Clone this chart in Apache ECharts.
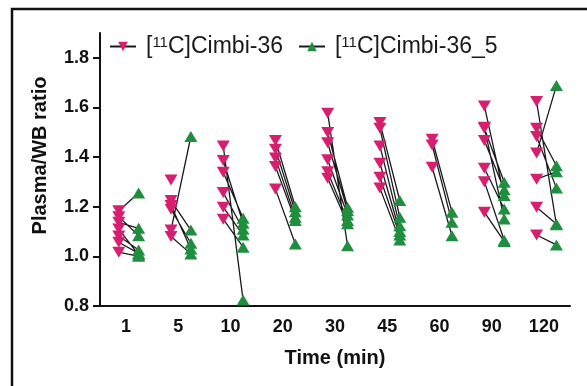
<!DOCTYPE html>
<html>
<head>
<meta charset="utf-8">
<script src="https://cdn.jsdelivr.net/npm/echarts@6.0.0/dist/echarts.min.js"></script>
<style>
html,body{margin:0;padding:0;background:#fff;}
#chart{width:587px;height:386px;}
</style>
</head>
<body>
<div id="chart"></div>
<script>
// Time points (min)
const categories = ['1', '5', '10', '20', '30', '45', '60', '90', '120'];
// y-axis tick labels
const yTicks = [0.8, 1.0, 1.2, 1.4, 1.6, 1.8];
// [11C]Cimbi-36 values per time point (paired with the arrays below)
const cimbi36 = [
  [1.184, 1.160, 1.137, 1.110, 1.082, 1.057, 1.017],
  [1.308, 1.225, 1.205, 1.190, 1.106, 1.080],
  [1.445, 1.386, 1.339, 1.257, 1.198, 1.150],
  [1.467, 1.432, 1.396, 1.362, 1.271],
  [1.577, 1.499, 1.458, 1.389, 1.341, 1.315],
  [1.539, 1.516, 1.445, 1.375, 1.319, 1.275],
  [1.472, 1.449, 1.359],
  [1.606, 1.520, 1.516, 1.467, 1.355, 1.301, 1.178],
  [1.624, 1.516, 1.483, 1.416, 1.311, 1.198, 1.086]
];
// [11C]Cimbi-36_5 values per time point (same order = paired subjects)
const cimbi36_5 = [
  [1.255, 1.083, 1.113, 1.006, 1.026, 1.012, 1.000],
  [null, 1.106, 1.030, 1.053, 1.483, 1.010],
  [0.824, 1.133, 1.154, 1.109, 1.086, 1.037],
  [1.200, 1.180, 1.158, 1.145, 1.050],
  [1.043, 1.198, 1.185, 1.167, 1.145, 1.131],
  [1.225, 1.158, 1.123, 1.100, 1.086, 1.066],
  [1.178, 1.137, 1.083],
  [1.245, 1.151, 1.299, 1.268, 1.191, 1.065, 1.060],
  [1.127, 1.365, 1.275, 1.688, 1.341, 1.130, 1.046]
];

const PINK = '#d81e6e';
const GREEN = '#1f8f3f';
const OFF_A = -0.14, OFF_B = 0.24;
const GAP = ['-', '-'];

const pinkData = [], greenData = [], linkData = [];
categories.forEach((c, i) => {
  cimbi36[i].forEach((p, j) => {
    const g = cimbi36_5[i][j];
    if (p != null) { pinkData.push([i + OFF_A, p]); pinkData.push(GAP); }
    if (g != null) { greenData.push([i + OFF_B, g]); greenData.push(GAP); }
    if (p != null && g != null) {
      linkData.push([i + OFF_A, p]); linkData.push([i + OFF_B, g]); linkData.push(GAP);
    }
  });
});

const FONT = '"Liberation Sans", Arial, sans-serif';
const chart = echarts.init(document.getElementById('chart'), null, {renderer: 'canvas'});
chart.setOption({
  animation: false,
  backgroundColor: '#fff',
  textStyle: {fontFamily: FONT},
  graphic: [{
    type: 'rect', z: 100,
    shape: {x: 12, y: 9, width: 700, height: 500},
    style: {fill: 'none', stroke: '#111', lineWidth: 2.5}
  }],
  legend: {
    left: 104, top: 30, itemWidth: 26, itemHeight: 12, itemGap: 15,
    data: ['[11C]Cimbi-36', '[11C]Cimbi-36_5'],
    formatter: function (n) { return '[{sup|11}C]' + n.replace('[11C]', ''); },
    textStyle: {
      fontFamily: FONT, fontSize: 23, color: '#1a1a1a', padding: [0, 0, 0, 5],
      rich: {sup: {fontSize: 15, verticalAlign: 'top', fontFamily: FONT, color: '#1a1a1a'}}
    }
  },
  grid: {left: 100, right: 17, top: 33, bottom: 80, containLabel: false, outerBoundsMode: 'none'},
  xAxis: [{
    type: 'category', data: categories, boundaryGap: true,
    name: 'Time (min)', nameLocation: 'middle', nameGap: 42,
    nameTextStyle: {fontFamily: FONT, fontSize: 20, fontWeight: 'bold', color: '#111'},
    axisLine: {onZero: false, lineStyle: {color: '#111', width: 2}},
    axisTick: {alignWithLabel: true, length: 7, lineStyle: {color: '#111', width: 2}},
    axisLabel: {fontFamily: FONT, fontSize: 18, fontWeight: 'bold', color: '#111', margin: 12}
  }, {
    type: 'value', min: -0.5, max: categories.length - 0.5, show: false
  }],
  yAxis: {
    type: 'value', min: 0.8, max: 1.9, interval: 0.2,
    name: 'Plasma/WB ratio', nameLocation: 'middle', nameGap: 50,
    nameTextStyle: {fontFamily: FONT, fontSize: 20, fontWeight: 'bold', color: '#111', padding: [0, 0, 0, 28]},
    axisLine: {show: true, onZero: false, lineStyle: {color: '#111', width: 2}},
    axisTick: {show: true, length: 7, customValues: yTicks, lineStyle: {color: '#111', width: 2}},
    axisLabel: {fontFamily: FONT, fontSize: 18, fontWeight: 'bold', color: '#111', margin: 11,
      customValues: yTicks, formatter: v => v.toFixed(1)},
    splitLine: {show: false}
  },
  series: [{
    type: 'line', name: 'links', xAxisIndex: 1, data: linkData, symbol: 'none',
    silent: true, z: 2, lineStyle: {color: '#1a1a1a', width: 1.3}, connectNulls: false
  }, {
    type: 'line', name: '[11C]Cimbi-36', xAxisIndex: 1, data: pinkData,
    symbol: 'triangle', symbolRotate: 180, symbolSize: [13, 11], showAllSymbol: true,
    connectNulls: false, z: 3,
    itemStyle: {color: PINK}, lineStyle: {color: '#1a1a1a', width: 1.3}
  }, {
    type: 'line', name: '[11C]Cimbi-36_5', xAxisIndex: 1, data: greenData,
    symbol: 'triangle', symbolSize: [13, 11], showAllSymbol: true,
    connectNulls: false, z: 3,
    itemStyle: {color: GREEN}, lineStyle: {color: '#1a1a1a', width: 1.3}
  }]
});
</script>
</body>
</html>
